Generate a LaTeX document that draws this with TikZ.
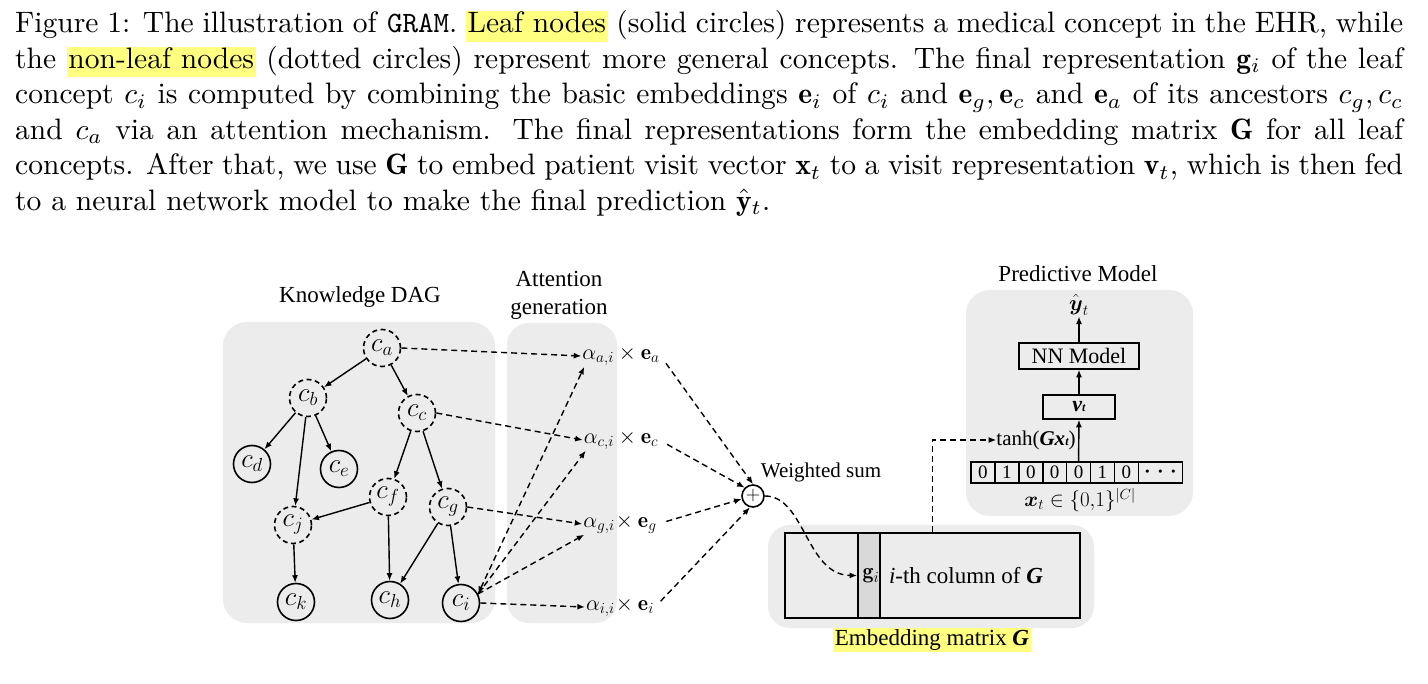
\RequirePackage{fix-cm}
\documentclass[tikz,border=0pt]{standalone}
\usepackage{amsmath,amssymb}
\usepackage{fontspec}
\usetikzlibrary{arrows.meta,calc}
\newfontfamily\tnr{Liberation Serif}
\definecolor{hlyellow}{RGB}{255,255,128}
\definecolor{bgray}{RGB}{236,236,236}
\definecolor{colgray}{RGB}{217,217,217}
\newcommand\hlt[1]{{\setlength{\fboxsep}{0pt}\colorbox{hlyellow}{\rule[-3pt]{0pt}{10.3pt}\hspace{0.5pt}#1\hspace{0.5pt}}}}
\newcommand\tbi[1]{{\tnr\bfseries\itshape #1}}
\begin{document}
\begin{tikzpicture}[x=1pt,y=-1pt,
  bg/.style={fill=bgray},
  leaf/.style={circle, draw, line width=1.6pt, minimum size=37pt, inner sep=0pt, font={\fontsize{27}{27}\selectfont}},
  nonleaf/.style={leaf, dash pattern=on 5pt off 3.5pt},
  sarr/.style={-{Latex[length=7.5pt,width=6pt]}, line width=1.4pt},
  darr/.style={sarr, dash pattern=on 6pt off 4pt},
  lbl/.style={inner sep=0pt, font={\tnr\fontsize{23}{28}\selectfont}},
  slbl/.style={inner sep=0pt, font={\tnr\fontsize{21}{25}\selectfont}},
  alab/.style={inner sep=1pt, font={\fontsize{22}{26}\selectfont}},
  cell/.style={draw, line width=1.6pt, minimum width=23.9pt, minimum height=21pt, inner sep=0pt, font={\tnr\fontsize{19}{21}\selectfont}},
  pbox/.style={draw, line width=1.6pt, inner sep=0pt, font={\tnr\fontsize{22}{24}\selectfont}}]
\useasboundingbox (0,0) rectangle (1428,684);
\fill[white] (0,0) rectangle (1428,684);

% caption
\node[anchor=base west, inner sep=0pt] (cap) at (15,33) {\scalebox{2.955}{\parbox[t]{469.7pt}{\fontsize{10}{12}\selectfont
Figure 1: The illustration of \texttt{GRAM}. \hlt{Leaf nodes} (solid circles) represents a medical concept in the EHR, while\linebreak
the \hlt{non-leaf nodes} (dotted circles) represent more general concepts. The final representation $\mathbf{g}_i$ of the leaf\linebreak
concept $c_i$ is computed by combining the basic embeddings $\mathbf{e}_i$ of $c_i$ and $\mathbf{e}_g, \mathbf{e}_c$ and $\mathbf{e}_a$ of its ancestors $c_g, c_c$\linebreak
and $c_a$ via an attention mechanism. The final representations form the embedding matrix $\mathbf{G}$ for all leaf\linebreak
concepts. After that, we use $\mathbf{G}$ to embed patient visit vector $\mathbf{x}_t$ to a visit representation $\mathbf{v}_t$, which is then fed\linebreak
to a neural network model to make the final prediction $\hat{\mathbf{y}}_t$.}}};

% backgrounds
\fill[bg, rounded corners=24pt] (223,322) rectangle (495,623);
\fill[bg, rounded corners=22pt] (507,323) rectangle (617,623);
\fill[bg, rounded corners=22pt] (768,525) rectangle (1094,628);
\fill[bg, rounded corners=24pt] (966,290) rectangle (1193,516);

% titles
\node[lbl] (tdag) at (360,297) {Knowledge DAG};
\node[lbl, align=center] (tatt) at (559,295) {Attention\\generation};
\node[lbl] (tpred) at (1078,274) {Predictive Model};
\node[lbl, fill=hlyellow, inner sep=1.5pt] (temb) at (932,640) {Embedding matrix \tbi{G}};
\node[slbl] (tws) at (821,472) {Weighted sum};

% DAG nodes
\node[nonleaf] (ca) at (382,348) {$c_a$};
\node[nonleaf] (cb) at (308,398) {$c_b$};
\node[nonleaf] (cc) at (417,413) {$c_c$};
\node[leaf] (cd) at (252,464) {$c_d$};
\node[leaf] (ce) at (339,469) {$c_e$};
\node[nonleaf] (cf) at (388,497) {$c_f$};
\node[nonleaf] (cg) at (448,507) {$c_g$};
\node[nonleaf] (cj) at (293,525) {$c_j$};
\node[leaf] (ck) at (296,602) {$c_k$};
\node[leaf] (ch) at (390,600) {$c_h$};
\node[leaf] (ci) at (461,603) {$c_i$};

\draw[sarr] (ca) -- (cb);
\draw[sarr] (ca) -- (cc);
\draw[sarr] (cb) -- (cd);
\draw[sarr] (cb) -- (ce);
\draw[sarr] (cb) -- (cj);
\draw[sarr] (cc) -- (cf);
\draw[sarr] (cc) -- (cg);
\draw[sarr] (cf) -- (cj);
\draw[sarr] (cf) -- (ch);
\draw[sarr] (cg) -- (ch);
\draw[sarr] (cg) -- (ci);
\draw[sarr] (cj) -- (ck);

% attention terms
\node[alab] (aa) at (621,356) {$\alpha_{a,i}\times\mathbf{e}_a$};
\node[alab] (ac) at (621,440) {$\alpha_{c,i}\times\mathbf{e}_c$};
\node[alab] (ag) at (620,524) {$\alpha_{g,i}\!\times\mathbf{e}_g$};
\node[alab] (ai) at (620,607) {$\alpha_{i,i}\!\times\mathbf{e}_i$};

\draw[darr] (ca.east) -- (aa.west);
\draw[darr] (cc.east) -- (ac.west);
\draw[darr] (cg.east) -- (ag.west);
\draw[darr] (ci.east) -- (ai.west);
\draw[darr, {Latex[length=7.5pt,width=6pt]}-{Latex[length=7.5pt,width=6pt]}] (ci.28) -- ([xshift=3pt]aa.south west);
\draw[darr] (ci.28) -- ([xshift=3pt]ac.south west);
\draw[darr] (ci.28) -- ([xshift=2pt]ag.south west);

% weighted sum
\node[circle, draw, line width=1.6pt, minimum size=22pt, inner sep=0pt, font={\fontsize{20}{20}\selectfont}] (plus) at (753,496) {$+$};
\draw[darr, shorten <=9pt] (aa.east) -- (plus.north);
\draw[darr, shorten <=9pt] (ac.east) -- (plus.135);
\draw[darr, shorten <=9pt] (ag.east) -- (plus.195);
\draw[darr, shorten <=8pt] (ai.east) -- (plus.255);

% embedding matrix
\node[draw, line width=1.8pt, minimum width=295pt, minimum height=85pt, inner sep=0pt] (mat) at (932.5,575.5) {};
\node[draw, line width=1.8pt, fill=colgray, minimum width=22pt, minimum height=85pt, inner sep=0pt] (gi) at (869,575.5) {};
\node[alab] (gilab) at (871,576) {$\mathbf{g}_i$};
\node[lbl] (icol) at (966,576) {\textit{i}-th column of \tbi{G}};
\draw[darr] (plus.east) .. controls (805,496) and (806,575) .. (gi.west);

% predictive model
\node[slbl] (tanh) at (1036,440) {tanh(\tbi{Gx}{\fontsize{12}{12}\selectfont\itshape\bfseries t})};
\draw[darr] (mat.north) |- (tanh.west);

\foreach \v [count=\k] in {0,1,0,0,0,1,0}
  \node[cell] (x\k) at ({971+23.9*(\k-0.5)},472.5) {\v};
\node[cell, minimum width=44pt, font={\fontsize{12}{14}\selectfont}] (x8) at (1160.5,472.5) {\textbullet\ \textbullet\ \textbullet};
\node[inner sep=0pt, font={\fontsize{21}{24}\selectfont}] (xl) at (1080,500) {$\boldsymbol{x}_t \in \{0{,}1\}^{|C|}$};

\node[pbox, minimum width=72pt, minimum height=24pt] (vt) at (1079,407) {\tbi{v}{\fontsize{12}{12}\selectfont\itshape\bfseries t}};
\node[pbox, minimum width=120pt, minimum height=26pt] (nn) at (1079,356) {NN Model};
\node[inner sep=1pt, font={\fontsize{22}{24}\selectfont}] (yh) at (1079,305) {$\hat{\boldsymbol{y}}_t$};
\draw[sarr] (x5.north) -- (vt.south);
\draw[sarr] (vt.north) -- (nn.south);
\draw[sarr] (nn.north) -- (yh.south);
\end{tikzpicture}
\end{document}
